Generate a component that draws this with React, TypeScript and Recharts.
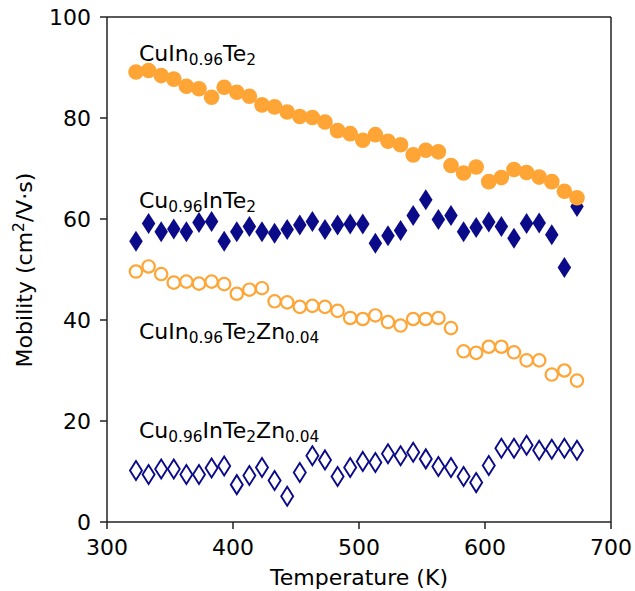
import React from "react";
import {
  ScatterChart,
  Scatter,
  XAxis,
  YAxis,
  ReferenceLine,
  ReferenceDot,
} from "recharts";

// temperature (K)
const temps = [
  323, 333, 343, 353, 363, 373, 383, 393, 403, 413, 423, 433, 443, 453, 463,
  473, 483, 493, 503, 513, 523, 533, 543, 553, 563, 573, 583, 593, 603, 613,
  623, 633, 643, 653, 663, 673,
];

// mobility (cm2/V.s)
const cuIn096Te2 = [
  89.1, 89.4, 88.4, 87.7, 86.3, 85.8, 84.1, 86.1, 85.1, 84.3, 82.6, 82.2, 81.2,
  80.3, 80.1, 79.2, 77.5, 76.9, 75.6, 76.7, 75.4, 74.7, 72.7, 73.6, 73.3, 70.6,
  69.1, 70.3, 67.4, 68.2, 69.8, 69.2, 68.3, 67.4, 65.5, 64.2,
];
const cu096InTe2 = [
  55.6, 59.1, 57.5, 58.0, 57.5, 59.3, 59.5, 55.6, 57.5, 58.5, 57.5, 57.2, 57.9,
  58.8, 59.5, 57.9, 58.8, 59.0, 59.0, 55.2, 56.7, 57.7, 60.7, 63.8, 59.9, 60.7,
  57.5, 58.3, 59.4, 58.5, 56.2, 59.1, 59.2, 56.9, 50.4, 62.5,
];
const cuIn096Te2Zn004 = [
  49.6, 50.6, 49.1, 47.4, 47.6, 47.2, 47.6, 47.1, 45.2, 46.0, 46.3, 43.7, 43.5,
  42.6, 42.8, 42.6, 41.8, 40.4, 40.2, 40.9, 39.6, 38.9, 40.2, 40.2, 40.4, 38.4,
  33.8, 33.5, 34.7, 34.7, 33.6, 32.0, 32.0, 29.2, 30.0, 28.0,
];
const cu096InTe2Zn004 = [
  10.2, 9.4, 10.5, 10.5, 9.4, 9.4, 10.7, 11.1, 7.4, 9.2, 10.8, 8.2, 5.1, 9.8,
  13.1, 12.3, 9.0, 10.8, 12.0, 11.8, 13.5, 13.1, 13.8, 12.5, 11.0, 10.8, 9.0,
  7.8, 11.2, 14.6, 14.6, 15.2, 14.2, 14.4, 14.6, 14.2,
];

const xTicks = [300, 400, 500, 600, 700];
const yTicks = [0, 20, 40, 60, 80, 100];

// series name labels: [x, y, text parts (normal / subscript)]
const seriesLabels: { x: number; y: number; parts: [string, boolean][] }[] = [
  { x: 325.4, y: 91.2, parts: [["CuIn", false], ["0.96", true], ["Te", false], ["2", true]] },
  { x: 325.4, y: 62.2, parts: [["Cu", false], ["0.96", true], ["InTe", false], ["2", true]] },
  {
    x: 325.4,
    y: 36.2,
    parts: [["CuIn", false], ["0.96", true], ["Te", false], ["2", true], ["Zn", false], ["0.04", true]],
  },
  {
    x: 325.4,
    y: 16.6,
    parts: [["Cu", false], ["0.96", true], ["InTe", false], ["2", true], ["Zn", false], ["0.04", true]],
  },
];

const ORANGE = "#ffa536";
const NAVY = "#0b0b8a";
const FONT = "DejaVu Sans";
const FS = 22;

const toPoints = (vals: number[]) => temps.map((t, i) => ({ t, v: vals[i] }));

const FilledCircle = (p: any) => <circle cx={p.cx} cy={p.cy} r={7.8} fill={ORANGE} />;
const OpenCircle = (p: any) => (
  <circle cx={p.cx} cy={p.cy} r={6.2} fill="none" stroke={ORANGE} strokeWidth={2.2} />
);
const diamondPath = (cx: number, cy: number, w: number, h: number) =>
  `M${cx},${cy - h / 2} L${cx + w / 2},${cy} L${cx},${cy + h / 2} L${cx - w / 2},${cy} Z`;
const FilledDiamond = (p: any) => <path d={diamondPath(p.cx, p.cy, 13.5, 21)} fill={NAVY} />;
const OpenDiamond = (p: any) => (
  <path d={diamondPath(p.cx, p.cy, 12, 19)} fill="none" stroke={NAVY} strokeWidth={1.9} />
);

const renderLabel = (parts: [string, boolean][]) => (p: any) => {
  let shift = 0;
  return (
    <text x={p.cx} y={p.cy} fontFamily={FONT} fontSize={FS} fill="#000">
      {parts.map(([s, sub], i) => {
        const dy = sub ? 4 - shift : -shift;
        shift = sub ? 4 : 0;
        return (
          <tspan key={i} dy={dy} fontSize={sub ? 15.4 : FS}>
            {s}
          </tspan>
        );
      })}
    </text>
  );
};

export default function App() {
  const tickStyle = { fontFamily: FONT, fontSize: FS, fill: "#000" };
  return (
    <div style={{ position: "absolute", left: 0, top: 0, width: 635, height: 591 }}>
      <ScatterChart width={635} height={591} margin={{ top: 17, right: 24, left: 0, bottom: 0 }}>
        <XAxis
          type="number"
          dataKey="t"
          domain={[300, 700]}
          ticks={xTicks}
          height={69}
          tickSize={7}
          tickMargin={10}
          tick={tickStyle}
          stroke="#222"
          strokeWidth={1.5}
          allowDataOverflow
        />
        <YAxis
          type="number"
          dataKey="v"
          domain={[0, 100]}
          ticks={yTicks}
          width={107}
          tickSize={7}
          tickMargin={9}
          tick={tickStyle}
          stroke="#222"
          strokeWidth={1.5}
          allowDataOverflow
        />
        <ReferenceLine y={100} stroke="#222" strokeWidth={1.5} />
        <ReferenceLine x={700} stroke="#222" strokeWidth={1.5} />
        <Scatter data={toPoints(cu096InTe2)} shape={FilledDiamond} isAnimationActive={false} />
        <Scatter data={toPoints(cuIn096Te2)} shape={FilledCircle} isAnimationActive={false} />
        <Scatter data={toPoints(cuIn096Te2Zn004)} shape={OpenCircle} isAnimationActive={false} />
        <Scatter data={toPoints(cu096InTe2Zn004)} shape={OpenDiamond} isAnimationActive={false} />
        {seriesLabels.map((l, i) => (
          <ReferenceDot key={i} x={l.x} y={l.y} r={0} shape={renderLabel(l.parts)} />
        ))}
      </ScatterChart>
      <svg
        width={635}
        height={591}
        style={{ position: "absolute", left: 0, top: 0, pointerEvents: "none" }}
      >
        <text x={359} y={585} textAnchor="middle" fontFamily={FONT} fontSize={FS} fill="#000">
          Temperature (K)
        </text>
        <text
          x={32}
          y={270}
          transform="rotate(-90 32 270)"
          textAnchor="middle"
          fontFamily={FONT}
          fontSize={FS}
          fill="#000"
        >
          Mobility (cm
          <tspan fontSize={15.4} dy={-8}>
            2
          </tspan>
          <tspan dy={8}>/V·s)</tspan>
        </text>
      </svg>
    </div>
  );
}
